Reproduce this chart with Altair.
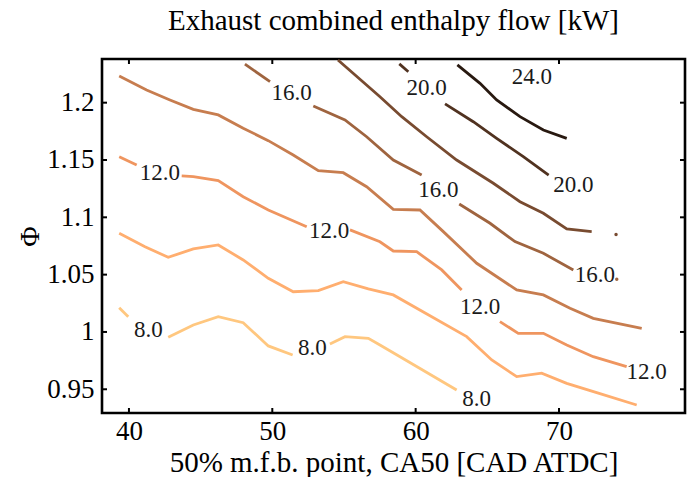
import altair as alt
import pandas as pd

FONT = "Liberation Serif"

# contour levels and colours (reversed copper)
levels = [8, 10, 12, 14, 16, 18, 20, 22, 24]
level_colors = ["#FFC77F", "#FFAE6F", "#EF955F", "#C77D4F", "#9F643F",
                "#784B30", "#503220", "#281910", "#000000"]

# contour line segments (broken where inline labels sit)
seg_level = [8, 8, 8, 10, 12, 12, 12, 12, 14, 16, 16, 16, 18, 20, 20, 22]
seg_x = [
    [39.32, 39.95],
    [42.74, 44.49, 46.23, 47.97, 49.72, 51.42],
    [54.02, 55.07, 56.70, 57.51, 58.91, 62.86],
    [39.32, 41.12, 42.74, 44.49, 46.23, 47.97, 49.72, 51.46, 53.21, 54.95,
     56.70, 58.44, 63.56, 65.31, 67.05, 68.79, 70.54, 72.63, 75.42],
    [39.32, 40.54],
    [43.68, 44.49, 46.23, 47.97, 49.72, 52.40],
    [55.42, 57.51, 58.44, 60.07, 61.82, 63.21],
    [65.88, 67.16, 68.91, 70.54, 72.39, 74.72],
    [39.32, 41.23, 42.86, 44.49, 46.23, 47.97, 49.72, 51.46, 53.21, 54.95,
     56.58, 58.44, 60.30, 61.93, 64.26, 67.05, 68.91, 70.77, 72.39, 75.77],
    [48.09, 49.84],
    [52.86, 55.07, 56.58, 58.44, 60.42],
    [63.04, 65.19, 66.93, 68.91, 71.00],
    [54.58, 57.51, 59.03, 60.77, 62.86, 65.42, 67.28, 68.91, 70.54, 72.28],
    [58.86, 59.49],
    [62.05, 64.02, 65.65, 67.51, 69.28],
    [62.91, 64.49, 65.65, 67.28, 68.91, 70.54],
]
seg_y = [
    [1.0212, 1.0133],
    [0.9954, 1.0061, 1.0133, 1.0081, 0.9878, 0.9799],
    [0.9895, 0.9959, 0.9945, 0.9886, 0.9784, 0.9494],
    [1.0861, 1.0744, 1.0651, 1.0724, 1.0759, 1.0628, 1.0468, 1.0351, 1.0360, 1.0439,
     1.0375, 1.0323, 0.9959, 0.9756, 0.9610, 0.9640, 0.9552, 0.9470, 0.9363],
    [1.1529, 1.1457],
    [1.1361, 1.1355, 1.1320, 1.1180, 1.1064, 1.0918],
    [1.0890, 1.0787, 1.0706, 1.0700, 1.0541, 1.0366],
    [1.0090, 0.9988, 0.9988, 0.9886, 0.9784, 0.9697],
    [1.2233, 1.2111, 1.2024, 1.1942, 1.1893, 1.1777, 1.1669, 1.1544, 1.1407, 1.1389,
     1.1267, 1.1070, 1.1064, 1.0875, 1.0599, 1.0366, 1.0323, 1.0207, 1.0119, 1.0032],
    [1.2337, 1.2183],
    [1.1971, 1.1849, 1.1703, 1.1500, 1.1369],
    [1.1116, 1.0948, 1.0788, 1.0686, 1.0541],
    [1.2372, 1.2052, 1.1878, 1.1703, 1.1500, 1.1297, 1.1136, 1.1035, 1.0898, 1.0875],
    [1.2338, 1.2270],
    [1.1989, 1.1834, 1.1689, 1.1529, 1.1369],
    [1.2329, 1.2169, 1.2024, 1.1878, 1.1762, 1.1689],
]

# tiny contour fragments (dots)
dot_x = [73.98, 74.03]
dot_y = [1.0850, 1.0460]
dot_level = [18, 16]

# inline contour labels
label_x = [41.35, 52.79, 64.26, 42.16, 53.97, 64.49, 76.12, 51.35, 61.58, 72.51, 60.77, 71.00, 68.10]
label_y = [1.0017, 0.9858, 0.9413, 1.1384, 1.0881, 1.0215, 0.9654, 1.2082, 1.1238, 1.0497, 1.2126, 1.1282, 1.2222]
label_text = ["8.0", "8.0", "8.0", "12.0", "12.0", "12.0", "12.0", "16.0", "16.0", "16.0", "20.0", "20.0", "24.0"]

x_ticks = [40, 50, 60, 70]
y_ticks = [0.95, 1.0, 1.05, 1.1, 1.15, 1.2]
x_domain = [38.12, 78.79]
y_domain = [0.9293, 1.2381]

W, H = 583, 354

rows = []
for s, (lv, xs, ys) in enumerate(zip(seg_level, seg_x, seg_y)):
    for i, (xv, yv) in enumerate(zip(xs, ys)):
        rows.append({"seg": s, "i": i, "level": lv, "x": xv, "y": yv})
lines_df = pd.DataFrame(rows)
dots_df = pd.DataFrame({"x": dot_x, "y": dot_y, "level": dot_level})
labels_df = pd.DataFrame({"x": label_x, "y": label_y, "text": label_text})
xt_df = pd.DataFrame({"x": x_ticks})
yt_df = pd.DataFrame({"y": y_ticks})

xs_ = alt.Scale(domain=x_domain, nice=False, zero=False)
ys_ = alt.Scale(domain=y_domain, nice=False, zero=False)
x_axis = alt.Axis(values=x_ticks, title="50% m.f.b. point, CA50 [CAD ATDC]",
                  grid=False, domain=False, ticks=False, labelFont=FONT, labelFontSize=27,
                  labelColor="black", labelPadding=5, titleFont=FONT, titleFontSize=29,
                  titleFontWeight="normal", titleColor="black", titleY=58,
                  titleBaseline="alphabetic")
y_axis = alt.Axis(values=y_ticks, format="~g", title="Φ", grid=False, domain=False,
                  ticks=False, labelFont=FONT, labelFontSize=27, labelColor="black",
                  labelPadding=8, titleFont=FONT, titleFontSize=28, titleFontWeight="normal",
                  titleColor="black", titleX=-72, titleY=H / 2, titleAlign="center",
                  titleBaseline="middle")
X = alt.X("x:Q", scale=xs_, axis=x_axis)
Y = alt.Y("y:Q", scale=ys_, axis=y_axis)
color = alt.Color("level:O", scale=alt.Scale(domain=levels, range=level_colors), legend=None)

lines = alt.Chart(lines_df).mark_line(strokeWidth=2.8).encode(
    x=X, y=Y, color=color, detail="seg:N", order="i:Q")
dots = alt.Chart(dots_df).mark_circle(size=12, opacity=1).encode(x=X, y=Y, color=color)
labels = alt.Chart(labels_df).mark_text(font=FONT, fontSize=23, color="#1a1a1a").encode(
    x=X, y=Y, text="text:N")

tl = 5
xt_bot = alt.Chart(xt_df).mark_rule(color="black", strokeWidth=2).encode(
    x=X, y=alt.value(H), y2=alt.value(H - tl))
xt_top = alt.Chart(xt_df).mark_rule(color="black", strokeWidth=2).encode(
    x=X, y=alt.value(0), y2=alt.value(tl))
yt_left = alt.Chart(yt_df).mark_rule(color="black", strokeWidth=2).encode(
    y=Y, x=alt.value(0), x2=alt.value(tl))
yt_right = alt.Chart(yt_df).mark_rule(color="black", strokeWidth=2).encode(
    y=Y, x=alt.value(W), x2=alt.value(W - tl))

chart = alt.layer(lines, dots, labels, xt_bot, xt_top, yt_left, yt_right).properties(
    width=W, height=H,
    title=alt.TitleParams("Exhaust combined enthalpy flow [kW]", font=FONT, fontSize=29,
                          fontWeight="normal", color="black", anchor="middle", offset=18),
    autosize=alt.AutoSizeParams(type="none"),
    padding={"left": 102, "top": 59, "right": 9, "bottom": 64},
    background="white",
).configure_view(stroke="black", strokeWidth=2.6)

chart.save("out.html", embed_options={"renderer": "svg", "actions": False})
